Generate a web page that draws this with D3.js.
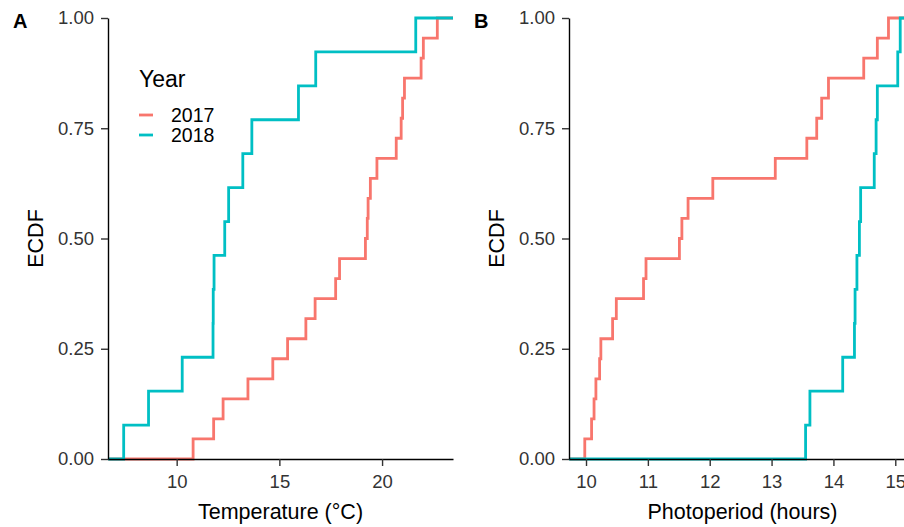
<!DOCTYPE html>
<meta charset="utf-8">
<script src="https://d3js.org/d3.v7.min.js"></script>
<style>
  body { margin: 0; background: #fff; }
  text { font-family: "Liberation Sans", Arial, sans-serif; }
</style>
<div id="chart"></div>
<script>
// values
const years = ["2017", "2018"];
const yearColors = ["#F8766D", "#00BFC4"];

const temp2017 = [10.80, 11.80, 12.26, 13.47, 14.68, 15.40, 16.29, 16.74, 17.74, 17.93, 19.19,
                  19.28, 19.32, 19.43, 19.75, 20.69, 20.93, 21.00, 21.09, 21.90, 22.01, 22.69];
const temp2018 = [7.42, 8.63, 10.27, 11.77, 11.78, 11.82, 12.34, 12.53, 13.22, 13.66, 15.93, 16.77, 21.64];

const photo2017 = [9.98, 10.09, 10.13, 10.16, 10.22, 10.24, 10.43, 10.49, 10.93, 10.97, 11.51,
                   11.55, 11.65, 12.05, 13.06, 13.57, 13.73, 13.81, 13.92, 14.49, 14.71, 14.89];
const photo2018 = [13.55, 13.62, 14.15, 14.34, 14.35, 14.38, 14.42, 14.44, 14.66, 14.69, 14.71, 15.04, 15.08];

const yTicks = [0, 0.25, 0.5, 0.75, 1];
const tempTicks = [10, 15, 20];
const photoTicks = [10, 11, 12, 13, 14, 15];

const W = 904, H = 527;
const plotTop = 18, plotBottom = 459;

const svg = d3.select("#chart").append("svg")
    .attr("width", W)
    .attr("height", H);

const y = d3.scaleLinear().domain([0, 1]).range([plotBottom, plotTop]);

// ggplot style 5% padding on x
function padded(vals) {
    const lo = d3.min(vals), hi = d3.max(vals), p = (hi - lo) * 0.05;
    return [lo - p, hi + p];
}

function panel(opts) {
    const x = d3.scaleLinear().domain(padded(opts.series.flat())).range([opts.x0, opts.x1]);
    const g = svg.append("g");

    const clipId = "clip" + opts.label;
    svg.append("clipPath").attr("id", clipId)
        .append("rect")
        .attr("x", opts.x0).attr("y", plotTop - 3)
        .attr("width", opts.x1 - opts.x0).attr("height", plotBottom - plotTop + 6);

    const line = d3.line()
        .x(d => x(d[0]))
        .y(d => y(d[1]))
        .curve(d3.curveStepAfter);

    opts.series.forEach((vals, i) => {
        const s = vals.slice().sort(d3.ascending);
        const n = s.length;
        const pts = [[x.domain()[0], 0]];
        s.forEach((v, j) => pts.push([v, (j + 1) / n]));
        pts.push([x.domain()[1], 1]);
        g.append("path")
            .attr("clip-path", `url(#${clipId})`)
            .attr("d", line(pts))
            .attr("fill", "none")
            .attr("stroke", yearColors[i])
            .attr("stroke-width", 2.8);
    });

    const yAxis = g.append("g")
        .attr("transform", `translate(${opts.x0},0)`)
        .call(d3.axisLeft(y).tickValues(yTicks).tickFormat(d3.format(".2f"))
            .tickSize(7).tickSizeOuter(0).tickPadding(7));
    const xAxis = g.append("g")
        .attr("transform", `translate(0,${plotBottom})`)
        .call(d3.axisBottom(x).tickValues(opts.ticks).tickFormat(d3.format("d"))
            .tickSize(7).tickSizeOuter(0).tickPadding(9));

    [yAxis, xAxis].forEach(a => {
        a.select(".domain").attr("stroke", "#000").attr("stroke-width", 1.4);
        a.selectAll(".tick line").attr("stroke", "#333").attr("stroke-width", 1.4);
        a.selectAll(".tick text").attr("fill", "#333").style("font-size", "18.5px");
    });

    g.append("text")
        .text(opts.xTitle)
        .attr("x", (opts.x0 + opts.x1) / 2)
        .attr("y", 519)
        .attr("text-anchor", "middle")
        .style("font-size", "21.5px")
        .attr("fill", "#000");

    g.append("text")
        .text("ECDF")
        .attr("transform", `translate(${opts.x0 - 65},${(plotTop + plotBottom) / 2}) rotate(-90)`)
        .attr("text-anchor", "middle")
        .style("font-size", "21.5px")
        .attr("fill", "#000");

    g.append("text")
        .text(opts.label)
        .attr("x", opts.x0 - 95)
        .attr("y", 28)
        .style("font-size", "20px")
        .style("font-weight", "bold")
        .attr("fill", "#000");

    return x;
}

panel({label: "A", x0: 108, x1: 453, series: [temp2017, temp2018], ticks: tempTicks, xTitle: "Temperature (°C)"});
panel({label: "B", x0: 569, x1: 916, series: [photo2017, photo2018], ticks: photoTicks, xTitle: "Photoperiod (hours)"});

// legend
const legend = svg.append("g").attr("transform", "translate(139,0)");
legend.append("text")
    .text("Year")
    .attr("x", 0)
    .attr("y", 87)
    .style("font-size", "23px")
    .attr("fill", "#000");
years.forEach((yr, i) => {
    const cy = 115 + i * 20;
    legend.append("line")
        .attr("x1", 0).attr("x2", 14)
        .attr("y1", cy).attr("y2", cy)
        .attr("stroke", yearColors[i])
        .attr("stroke-width", 2.8);
    legend.append("text")
        .text(yr)
        .attr("x", 32)
        .attr("y", cy + 7)
        .style("font-size", "19.5px")
        .attr("fill", "#000");
});
</script>
